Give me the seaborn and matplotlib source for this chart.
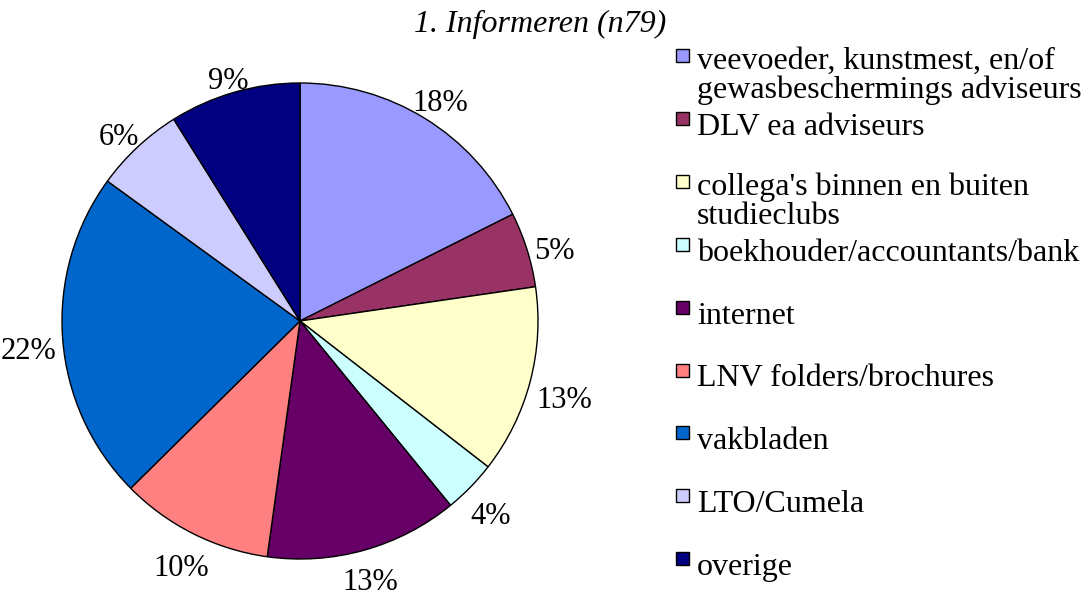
import numpy as np
import matplotlib
matplotlib.use("Agg")
import matplotlib.pyplot as plt
from matplotlib.patches import Rectangle
import seaborn as sns

# data (slice shares in %, labels show them rounded)
categories = [
    "veevoeder, kunstmest, en/of\ngewasbeschermings adviseurs",
    "DLV ea adviseurs",
    "collega's binnen en buiten\nstudieclubs",
    "boekhouder/accountants/bank",
    "internet",
    "LNV folders/brochures",
    "vakbladen",
    "LTO/Cumela",
    "overige",
]
shares = [17.6, 5.1, 12.8, 3.6, 13.1, 10.4, 22.4, 6.1, 8.9]
pct_labels = [f"{round(v)}%" for v in shares]
slice_colors = ["#9999FF", "#993366", "#FFFFCC", "#CCFFFF", "#660066",
                "#FF8080", "#0066CC", "#CCCCFF", "#000080"]
title = "1. Informeren (n79)"

W, H = 1090, 598
FS = 23
FS_PCT = 22

sns.set_theme(style="white")
plt.rcParams["font.family"] = ["Liberation Serif", "DejaVu Serif"]

fig = plt.figure(figsize=(W / 100, H / 100), dpi=100)
fig.patch.set_facecolor("white")

# pie centre (300, 321) px, radius 238 px
cx, cy, R = 300, 321, 238
ax = fig.add_axes([(cx - R) / W, (H - cy - R) / H, 2 * R / W, 2 * R / H])
palette = sns.color_palette(slice_colors)
wedges, _ = ax.pie(shares, colors=palette, startangle=90, counterclock=False,
                   wedgeprops=dict(edgecolor="black", linewidth=1.0))
ax.set_xlim(-1, 1)
ax.set_ylim(-1, 1)
ax.set_aspect("equal")
ax.axis("off")

# percentage labels outside, box just touching a circle beyond the rim
gap = 6 / R
cap = 21 / R
drop = 7 / R
for w, lab in zip(wedges, pct_labels):
    mid = np.deg2rad((w.theta1 + w.theta2) / 2)
    ux, uy = np.cos(mid), np.sin(mid)
    half_w = (9 + 15.5 * len(lab)) / 2 / R
    k = 1 + gap + half_w * abs(ux) + cap / 2 * abs(uy)
    ax.text(k * ux, k * uy - cap / 2 - drop, lab, ha="center", va="baseline",
            fontsize=FS_PCT, color="black", clip_on=False)

# title
fig.text(540 / W, 1 - 32 / H, title, ha="center", va="baseline",
         fontsize=FS, style="italic", color="black")

# legend drawn by hand (uniform slot height like the original)
top0, step, msize = 49, 62.9, 13
line_gap = 26
for i, (lab, col) in enumerate(zip(categories, palette)):
    top = top0 + i * step
    fig.add_artist(Rectangle((676 / W, 1 - (top + msize) / H), msize / W, msize / H,
                             transform=fig.transFigure, facecolor=col,
                             edgecolor="black", linewidth=1.0))
    n_extra = lab.count("\n")
    # baseline alignment of a multi-line text refers to its last line
    fig.text(697 / W, 1 - (top + 23 + line_gap * n_extra) / H, lab, ha="left",
             va="baseline", fontsize=FS, color="black", linespacing=1.0)

fig.savefig("out.png", dpi=100, facecolor="white")
